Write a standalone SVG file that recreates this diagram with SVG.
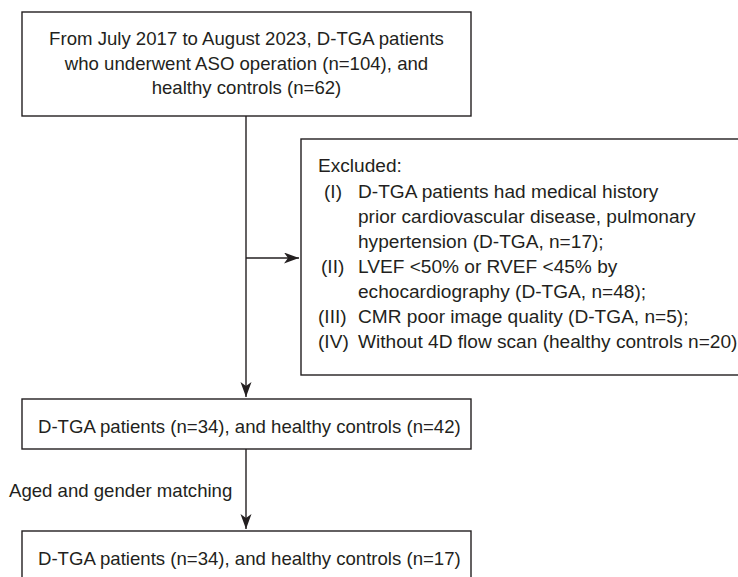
<svg xmlns="http://www.w3.org/2000/svg" width="738" height="577" viewBox="0 0 738 577">
<style>
.box{fill:#fff;stroke:#231f20;stroke-width:1.4}
.ln{fill:none;stroke:#231f20;stroke-width:1.4}
text{font-family:"Liberation Sans",Arial,sans-serif;font-size:18.6px;fill:#231f20}
.c{text-anchor:middle}
.x{font-size:19.1px}
</style>
<defs>
<marker id="ah" markerUnits="userSpaceOnUse" markerWidth="16" markerHeight="12" refX="15" refY="5.5" orient="auto">
<path d="M0,0 L15,5.5 L0,11 L4,5.5 Z" fill="#231f20"/>
</marker>
</defs>
<rect width="738" height="577" fill="#fff"/>
<g id="connectors">
<line class="ln" x1="246" y1="116" x2="246" y2="397" marker-end="url(#ah)"/>
<line class="ln" x1="246" y1="258" x2="299" y2="258" marker-end="url(#ah)"/>
<line class="ln" x1="246" y1="449" x2="246" y2="529" marker-end="url(#ah)"/>
<text x="9" y="497">Aged and gender matching</text>
</g>
<g id="n1">
<rect class="box" x="22" y="12" width="449" height="104"/>
<text class="c" x="246.5" y="45">From July 2017 to August 2023, D-TGA patients</text>
<text class="c" x="246.5" y="69.5">who underwent ASO operation (n=104), and</text>
<text class="c" x="246.5" y="94">healthy controls (n=62)</text>
</g>
<g id="excluded" class="x">
<rect class="box" x="301" y="139" width="460" height="236"/>
<text class="x" x="318" y="172">Excluded:</text>
<text class="x" x="324" y="198">(I)</text>
<text class="x" x="358" y="198">D-TGA patients had medical history</text>
<text class="x" x="358" y="223">prior cardiovascular disease, pulmonary</text>
<text class="x" x="358" y="248">hypertension (D-TGA, n=17);</text>
<text class="x" x="321" y="273">(II)</text>
<text class="x" x="358" y="273">LVEF &lt;50% or RVEF &lt;45% by</text>
<text class="x" x="358" y="298">echocardiography (D-TGA, n=48);</text>
<text class="x" x="318" y="323">(III)</text>
<text class="x" x="358" y="323">CMR poor image quality (D-TGA, n=5);</text>
<text class="x" x="318" y="348">(IV)</text>
<text class="x" x="358" y="348">Without 4D flow scan (healthy controls n=20)</text>
</g>
<g id="n2">
<rect class="box" x="22" y="399" width="449" height="50"/>
<text x="38" y="432.5">D-TGA patients (n=34), and healthy controls (n=42)</text>
</g>
<g id="n3">
<rect class="box" x="22" y="531" width="449" height="70"/>
<text x="38" y="565">D-TGA patients (n=34), and healthy controls (n=17)</text>
</g>
</svg>
